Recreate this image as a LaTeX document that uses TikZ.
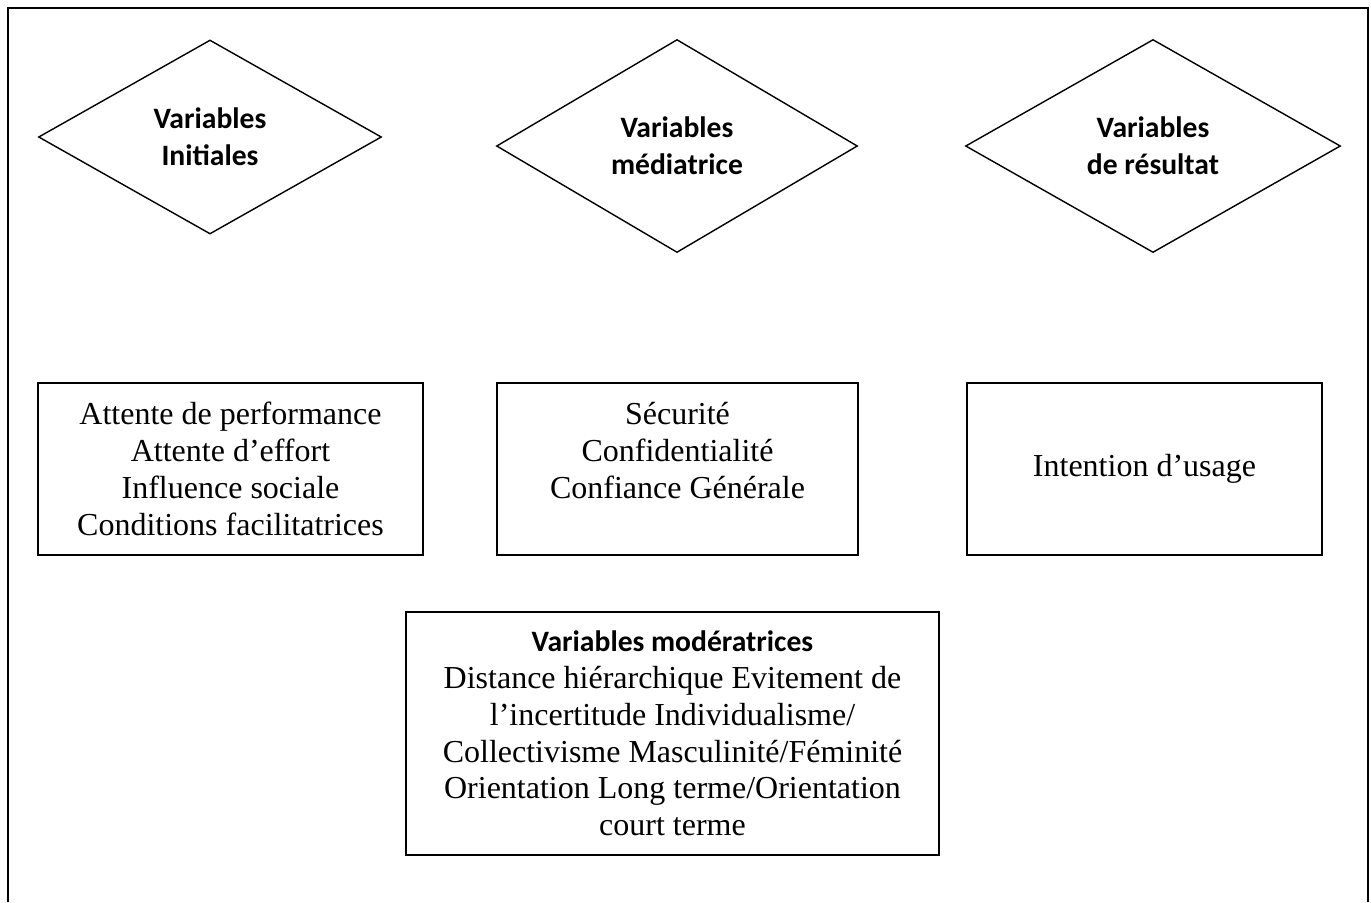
\documentclass[tikz,border=0pt]{standalone}
\usepackage{fontspec}
\setmainfont{Liberation Serif}
\newfontfamily\calibri{Carlito}
\usetikzlibrary{shapes.geometric}

\begin{document}
\begin{tikzpicture}[x=0.5pt,y=-0.5pt,
    losange/.style={diamond,draw,line width=0.7pt,align=center,inner sep=0pt,
      font=\calibri\bfseries\fontsize{14.8}{18.3}\selectfont},
    boite/.style={rectangle,draw,line width=0.7pt,align=center,inner sep=0pt,
      font=\fontsize{16}{18.4}\selectfont}]
    \useasboundingbox (0,0) rectangle (1371,902);
    \draw[line width=1pt] (7.5,902) -- (7.5,8) -- (1368,8) -- (1368,902);
    % les trois familles de variables
    \node[losange,minimum width=171.5pt,minimum height=97pt] (init) at (210,137) {Variables\\Initiales};
    \node[losange,minimum width=180.5pt,minimum height=106.5pt] (med) at (677,146) {Variables\\médiatrice};
    \node[losange,minimum width=187.5pt,minimum height=106.5pt] (res) at (1153,146) {Variables\\de résultat};
    % les facteurs
    \node[boite,minimum width=192.5pt,minimum height=86pt] (attentes) at (230.5,469)
      {Attente de performance\\Attente d’effort\\Influence sociale\\Conditions facilitatrices};
    \node[boite,minimum width=180.5pt,minimum height=86pt] (confiance) at (677.5,469)
      {Sécurité\\Confidentialité\\Confiance Générale\\\phantom{C}};
    \node[boite,minimum width=177.5pt,minimum height=86pt] (usage) at (1144.5,469)
      {Intention d’usage};
    \node[boite,minimum width=266.5pt,minimum height=121.5pt] (culture) at (672.5,733.5)
      {{\calibri\bfseries\fontsize{14.8}{18.3}\selectfont Variables modératrices}\\
       Distance hiérarchique Evitement de\\
       l’incertitude Individualisme/\\
       Collectivisme Masculinité/Féminité\\
       Orientation Long terme/Orientation\\
       court terme};
\end{tikzpicture}
\end{document}
